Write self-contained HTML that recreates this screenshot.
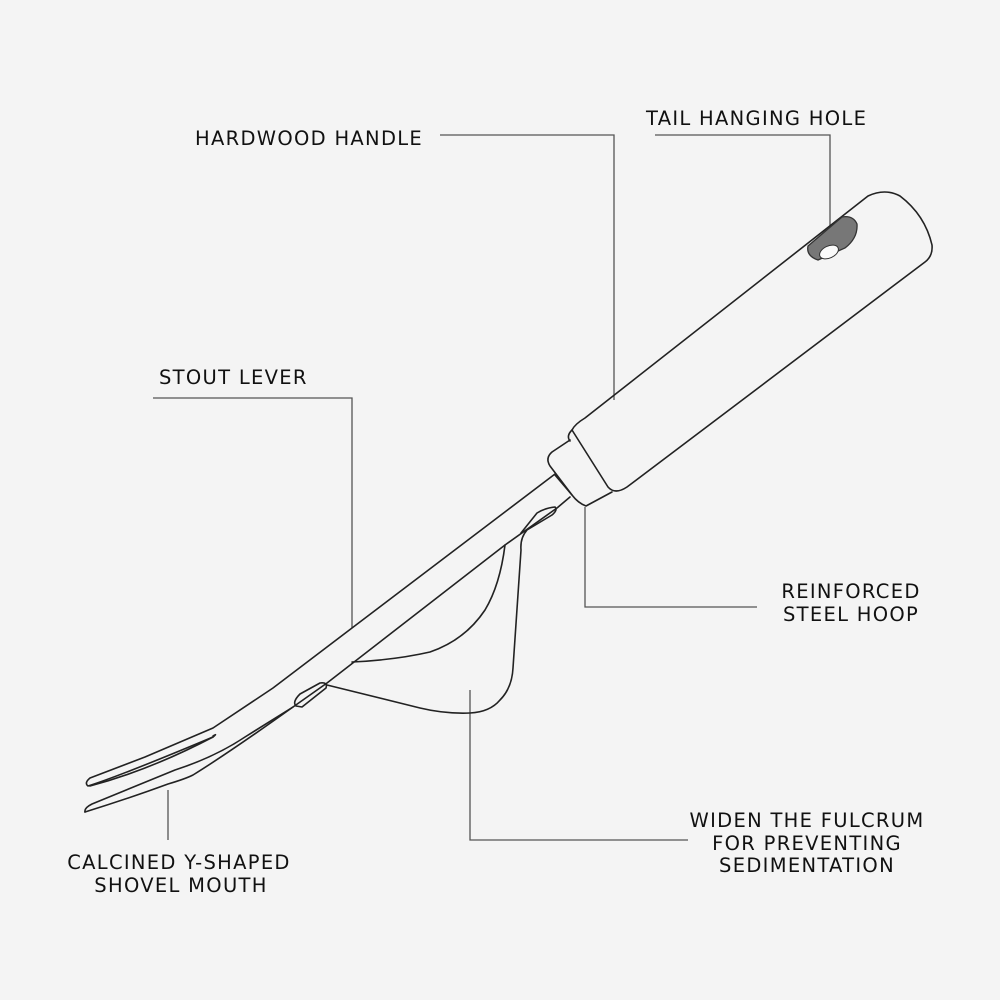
<!DOCTYPE html>
<html><head><style>
html,body{margin:0;padding:0;background:#f4f4f4;}
svg{display:block}
text{font-family:"DejaVu Sans","Liberation Sans",sans-serif;font-size:19.5px;fill:#111;letter-spacing:1.3px}
</style></head><body>
<svg width="1000" height="1000" viewBox="0 0 1000 1000">
<rect width="1000" height="1000" fill="#f4f4f4"/>
<g fill="none" stroke="#555" stroke-width="1.3">
<polyline points="440,135 614,135 614,400"/>
<polyline points="655,135 830,135 830,245"/>
<polyline points="153,398 352,398 352,628"/>
<polyline points="585,507 585,607 757,607"/>
<polyline points="470,690 470,840 688,840"/>
<polyline points="168,790 168,840"/>
</g>
<g fill="none" stroke="#222" stroke-width="1.6" stroke-linejoin="round" stroke-linecap="round">
<path d="M572,430 Q575,424 585,418 L868,196 Q885,188 900,196 Q925,215 932,245 Q933,256 925,262 L627,487 Q615,495 608,487 Z"/>
<path d="M572,430 Q566,436 570,441"/>
<path d="M570,440 L552,452 Q545,458 550,466 L572,495 Q578,503 586,506 L612,492"/>
<path d="M555,475 L572,495"/>
<path d="M555,474 L352,628 L273,688 Q240,710 213,728 Q180,742 145,757 L90,778 Q84,783 88,786 Q120,776 213,737 Q218,733 213,736"/>
<path d="M90,786 Q150,770 213,737"/>
<path d="M85,812 Q84,808 92,804 L175,770 Q215,757 245,737 L293,707 L327,683 L505,545 L557,508 L570,497"/>
<path d="M85,812 Q130,798 168,784 Q185,779 193,775 Q230,752 293,707"/>
<path d="M296,706 Q292,702 300,694 L320,683 Q328,682 326,688 L302,707 Z"/>
<path d="M505,545 Q500,585 485,610 Q465,640 430,652 Q395,660 352,662"/>
<path d="M327,685 Q380,698 420,708 Q445,714 470,713 Q490,712 500,700 Q512,688 513,668 L521,550 Q520,538 527,530 L552,515 Q558,510 555,507 Q545,508 537,513 L521,533"/>
</g>
<path d="M808,246 Q806,256 818,260 L845,248 Q858,238 857,224 Q853,215 842,217 Z" fill="#777" stroke="#333" stroke-width="1.3"/>
<ellipse cx="829" cy="252" rx="10" ry="6" transform="rotate(-25 829 252)" fill="#fafafa" stroke="#333"/>
<text x="195" y="145">HARDWOOD HANDLE</text>
<text x="646" y="125">TAIL HANGING HOLE</text>
<text x="159" y="384">STOUT LEVER</text>
<text x="851" y="598" text-anchor="middle">REINFORCED</text>
<text x="851" y="621" text-anchor="middle">STEEL HOOP</text>
<text x="807" y="827" text-anchor="middle">WIDEN THE FULCRUM</text>
<text x="807" y="850" text-anchor="middle">FOR PREVENTING</text>
<text x="807" y="872" text-anchor="middle">SEDIMENTATION</text>
<text x="179" y="869" text-anchor="middle">CALCINED Y-SHAPED</text>
<text x="181" y="892" text-anchor="middle">SHOVEL MOUTH</text>
</svg>
</body></html>
